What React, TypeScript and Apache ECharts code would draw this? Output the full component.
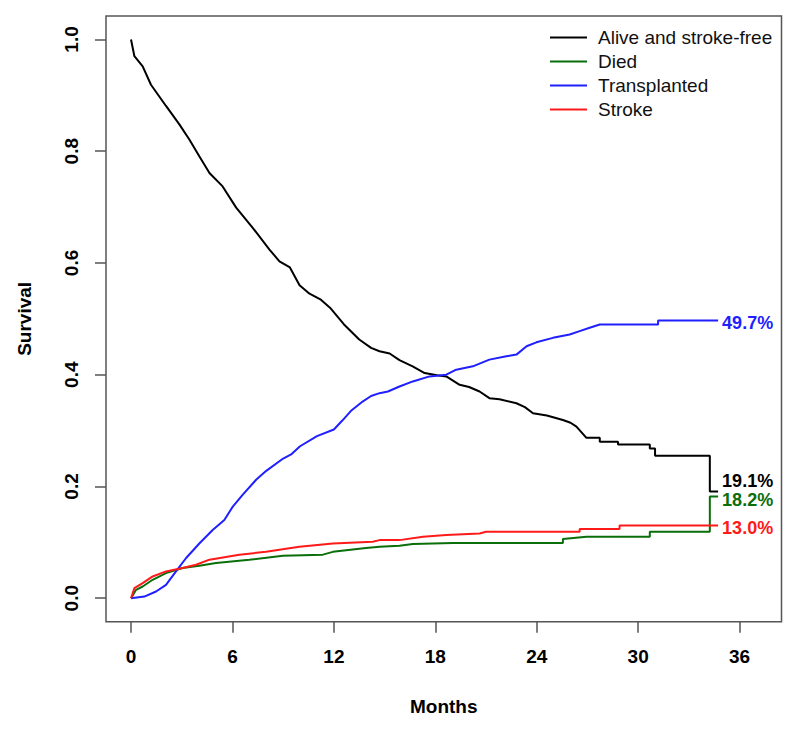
import React, { useEffect, useRef } from "react";
import * as echarts from "echarts";

const seriesNames = ["Alive and stroke-free", "Died", "Transplanted", "Stroke"];
const seriesColors = ["#000000", "#0a6e0a", "#1f1fff", "#ff1a1a"];
const endLabels = ["19.1%", "18.2%", "49.7%", "13.0%"];

const xTicks = [0, 6, 12, 18, 24, 30, 36];
const yTicks = [0, 0.2, 0.4, 0.6, 0.8, 1.0];

const aliveData = [
  [0, 1.0], [0.2, 0.97], [0.69, 0.952], [1.18, 0.919], [2.07, 0.881], [2.86, 0.848],
  [3.45, 0.821], [4.04, 0.791], [4.64, 0.761], [5.42, 0.737], [6.22, 0.699], [7.2, 0.663],
  [8.19, 0.624], [8.78, 0.603], [9.4, 0.592], [9.97, 0.56], [10.56, 0.545], [11.2, 0.535],
  [11.77, 0.52], [12.6, 0.49], [13.5, 0.463], [14.2, 0.448], [14.7, 0.442], [15.3, 0.438],
  [15.88, 0.426], [16.66, 0.415], [17.37, 0.403], [18.1, 0.399], [18.65, 0.397], [19.44, 0.382],
  [20.0, 0.378], [20.62, 0.37], [21.2, 0.358], [21.8, 0.356], [22.8, 0.349], [23.3, 0.342],
  [23.78, 0.331], [24.6, 0.327], [25.55, 0.319], [26.0, 0.314], [26.35, 0.307], [26.94, 0.287],
  [27.73, 0.287], [27.73, 0.28], [28.81, 0.28], [28.81, 0.275], [30.69, 0.275], [30.69, 0.268],
  [31.0, 0.268], [31.0, 0.255], [34.24, 0.255], [34.24, 0.191], [34.73, 0.191],
];

const diedData = [
  [0, 0], [0.3, 0.015], [0.69, 0.021], [1.28, 0.033], [2.07, 0.045], [3.05, 0.054],
  [4.04, 0.058], [5.03, 0.063], [7.0, 0.069], [8.98, 0.076], [11.35, 0.078], [11.94, 0.083],
  [13.9, 0.09], [14.7, 0.092], [15.88, 0.094], [16.67, 0.097], [19.04, 0.099], [25.55, 0.099],
  [25.55, 0.106], [26.94, 0.11], [30.69, 0.11], [30.69, 0.119], [34.24, 0.119], [34.24, 0.182],
  [34.73, 0.182],
];

const transplantedData = [
  [0, 0], [0.79, 0.003], [1.48, 0.012], [2.07, 0.024], [2.66, 0.048], [3.26, 0.072],
  [4.04, 0.098], [4.83, 0.122], [5.52, 0.14], [6.02, 0.164], [6.6, 0.185], [7.4, 0.212],
  [8.0, 0.228], [9.0, 0.25], [9.5, 0.258], [10.0, 0.272], [11.0, 0.29], [12.0, 0.302],
  [12.5, 0.318], [13.0, 0.335], [13.7, 0.352], [14.2, 0.362], [14.7, 0.367], [15.2, 0.37],
  [15.88, 0.379], [16.67, 0.388], [17.66, 0.397], [18.65, 0.4], [19.24, 0.409], [20.22, 0.415],
  [21.2, 0.427], [22.2, 0.433], [22.8, 0.436], [23.4, 0.451], [23.98, 0.458], [24.96, 0.466],
  [25.95, 0.472], [26.54, 0.478], [27.13, 0.484], [27.73, 0.49], [31.18, 0.49], [31.18, 0.497],
  [34.73, 0.497],
];

const strokeData = [
  [0, 0], [0.2, 0.018], [0.69, 0.027], [1.28, 0.039], [2.07, 0.048], [3.05, 0.054],
  [3.85, 0.06], [4.64, 0.069], [6.41, 0.078], [7.99, 0.083], [9.96, 0.092], [11.94, 0.098],
  [14.3, 0.101], [14.7, 0.104], [15.88, 0.104], [17.27, 0.11], [18.65, 0.113], [20.62, 0.116],
  [21.0, 0.119], [26.54, 0.119], [26.54, 0.124], [28.9, 0.124], [28.9, 0.13], [34.73, 0.13],
];

const allData = [aliveData, diedData, transplantedData, strokeData];
const labelOffsets = [[0, -10.5], [0, 3.5], [0, 2], [0, 2]];

const FONT = "'Liberation Sans', Arial, sans-serif";

export default function App() {
  const ref = useRef<HTMLDivElement>(null);
  useEffect(() => {
    if (!ref.current) return;
    const chart = echarts.init(ref.current, null, { renderer: "svg" });
    const frameColor = "#555555";
    chart.setOption({
      animation: false,
      backgroundColor: "#ffffff",
      textStyle: { fontFamily: FONT },
      grid: {
        left: 106,
        right: 18.5,
        top: 16,
        bottom: 107.3,
        show: true,
        borderColor: frameColor,
        borderWidth: 1.5,
        backgroundColor: "transparent",
        outerBoundsMode: "none",
      },
      legend: {
        orient: "vertical",
        left: 545,
        top: 23,
        itemWidth: 37,
        itemHeight: 14,
        itemGap: 5,
        icon: "path://M0,6 L37,6 L37,8 L0,8 Z",
        data: seriesNames,
        textStyle: {
          fontFamily: FONT,
          fontSize: 19,
          lineHeight: 19,
          color: "#111111",
          padding: [0, 0, 0, 6],
        },
      },
      xAxis: {
        type: "value",
        min: -1.48,
        max: 38.48,
        splitLine: { show: false },
        axisLine: { show: false, onZero: false },
        axisTick: {
          show: true,
          customValues: xTicks,
          length: 11,
          lineStyle: { color: frameColor, width: 1.5 },
        },
        axisLabel: {
          customValues: xTicks,
          margin: 25,
          fontSize: 19,
          fontWeight: "bold",
          color: "#000000",
          fontFamily: FONT,
        },
        name: "Months",
        nameLocation: "middle",
        nameGap: 75,
        nameTextStyle: {
          fontSize: 19,
          fontWeight: "bold",
          color: "#000000",
          fontFamily: FONT,
          verticalAlign: "top",
        },
      },
      yAxis: {
        type: "value",
        min: -0.042,
        max: 1.042,
        splitLine: { show: false },
        axisLine: { show: false, onZero: false },
        axisTick: {
          show: true,
          customValues: yTicks,
          length: 11,
          lineStyle: { color: frameColor, width: 1.5 },
        },
        axisLabel: {
          customValues: yTicks,
          rotate: 90,
          margin: 25,
          fontSize: 19,
          fontWeight: "bold",
          color: "#000000",
          fontFamily: FONT,
          formatter: (v: number) => v.toFixed(1),
        },
        name: "Survival",
        nameLocation: "middle",
        nameRotate: 90,
        nameGap: 72,
        nameTextStyle: {
          fontSize: 19,
          fontWeight: "bold",
          color: "#000000",
          fontFamily: FONT,
        },
      },
      series: seriesNames.map((name, i) => ({
        name,
        type: "line",
        data: allData[i],
        showSymbol: false,
        symbol: "none",
        lineStyle: { color: seriesColors[i], width: 2 },
        itemStyle: { color: seriesColors[i] },
        z: 2 + i,
        endLabel: {
          show: true,
          formatter: endLabels[i],
          distance: 4,
          offset: labelOffsets[i],
          color: seriesColors[i],
          fontSize: 18,
          fontWeight: "bold",
          fontFamily: FONT,
        },
      })),
    });
    return () => chart.dispose();
  }, []);
  return (
    <div
      ref={ref}
      style={{ position: "fixed", left: 0, top: 0, width: 800, height: 729, background: "#fff" }}
    />
  );
}
